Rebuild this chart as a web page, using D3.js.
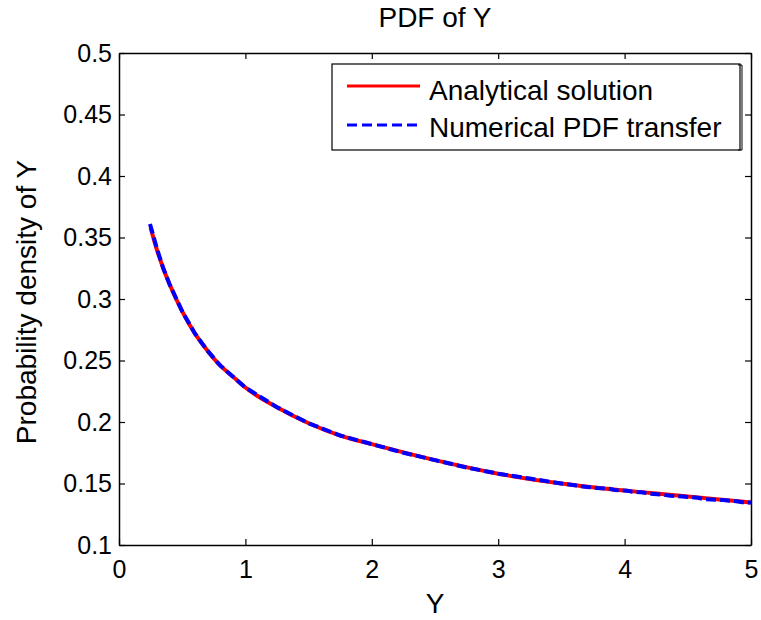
<!DOCTYPE html>
<html>
<head>
<meta charset="utf-8">
<script src="https://cdn.jsdelivr.net/npm/d3@7"></script>
<style>
  html, body { margin: 0; padding: 0; background: #fff; }
  svg { display: block; font-family: "Liberation Sans", Arial, sans-serif; }
</style>
</head>
<body>
<svg id="chart" width="761" height="620"></svg>
<script>
// PDF of Y: analytical curve and numerically transferred PDF
const analyticalY = [0.25, 0.3, 0.35, 0.4, 0.5, 0.6, 0.7, 0.8, 0.9, 1.0, 1.25, 1.5, 1.75, 2.0, 2.5, 3.0, 3.5, 3.8, 4.0, 4.25, 4.5, 4.75, 5.0];
const analyticalP = [0.358, 0.340, 0.325, 0.312, 0.290, 0.272, 0.258, 0.246, 0.237, 0.228, 0.212, 0.199, 0.189, 0.182, 0.169, 0.158, 0.150, 0.1463, 0.1443, 0.1418, 0.1395, 0.1370, 0.1345];

const numericalY = [0.245, 0.3, 0.35, 0.4, 0.5, 0.6, 0.7, 0.8, 0.9, 1.0, 1.25, 1.5, 1.75, 2.0, 2.25, 2.5, 2.75, 3.0, 3.25, 3.5,
  3.62, 3.72, 3.78, 3.88, 3.92, 4.02, 4.06, 4.15, 4.2, 4.3, 4.36, 4.46, 4.5, 4.58, 4.62, 4.74, 4.78, 4.9, 4.93, 5.0];
const numericalP = [0.361, 0.341, 0.325, 0.312, 0.290, 0.272, 0.258, 0.246, 0.237, 0.228, 0.212, 0.199, 0.189, 0.182, 0.175, 0.169, 0.163, 0.158, 0.154, 0.150,
  0.1483, 0.1470, 0.1464, 0.1458, 0.1448, 0.1442, 0.1433, 0.1427, 0.1416, 0.1410, 0.1400, 0.1394, 0.1390, 0.1384, 0.1374, 0.1368, 0.1365, 0.1354, 0.1348, 0.1345];

const xTicks = [0, 1, 2, 3, 4, 5];
const yTicks = [0.1, 0.15, 0.2, 0.25, 0.3, 0.35, 0.4, 0.45, 0.5];
const seriesNames = ["Analytical solution", "Numerical PDF transfer"];

const svg = d3.select("#chart");
const plotLeft = 119, plotRight = 751, plotTop = 53, plotBottom = 545;

const x = d3.scaleLinear().domain([0, 5]).range([plotLeft, plotRight]);
const y = d3.scaleLinear().domain([0.1, 0.5]).range([plotBottom, plotTop]);

const tickLen = 6;
const tickFont = 25;
const labelFont = 28;

// Axes (box with inward ticks)
const gBottom = svg.append("g").attr("transform", `translate(0,${plotBottom})`)
  .call(d3.axisBottom(x).tickValues(xTicks).tickSizeInner(-tickLen).tickSizeOuter(0).tickPadding(15).tickFormat(d3.format("d")));
const gTop = svg.append("g").attr("transform", `translate(0,${plotTop})`)
  .call(d3.axisTop(x).tickValues(xTicks).tickSizeInner(-tickLen).tickSizeOuter(0).tickFormat(""));
const gLeft = svg.append("g").attr("transform", `translate(${plotLeft},0)`)
  .call(d3.axisLeft(y).tickValues(yTicks).tickSizeInner(-tickLen).tickSizeOuter(0).tickPadding(7).tickFormat(d => String(+d.toFixed(2))));
const gRight = svg.append("g").attr("transform", `translate(${plotRight},0)`)
  .call(d3.axisRight(y).tickValues(yTicks).tickSizeInner(-tickLen).tickSizeOuter(0).tickFormat(""));

[gBottom, gTop, gLeft, gRight].forEach(g => {
  g.select(".domain").attr("stroke", "#000").attr("stroke-width", 1.5);
  g.selectAll(".tick line").attr("stroke", "#000").attr("stroke-width", 1.2);
  g.selectAll("text").attr("fill", "#000").attr("font-size", tickFont)
    .attr("font-family", "'Liberation Sans', Arial, sans-serif");
});

// Series lines
const line = d3.line().x(d => x(d[0])).y(d => y(d[1]));
const smooth = d3.line().x(d => x(d[0])).y(d => y(d[1])).curve(d3.curveMonotoneX);

const plot = svg.append("g");
plot.append("path")
  .datum(analyticalY.map((v, i) => [v, analyticalP[i]]))
  .attr("d", smooth)
  .attr("fill", "none").attr("stroke", "#ff0000").attr("stroke-width", 4);

plot.append("path")
  .datum(numericalY.map((v, i) => [v, numericalP[i]]))
  .attr("d", line)
  .attr("fill", "none").attr("stroke", "#0000ff").attr("stroke-width", 4)
  .attr("stroke-dasharray", "10,4");

// Legend
const lg = svg.append("g");
lg.append("rect").attr("x", 332).attr("y", 64).attr("width", 408).attr("height", 86)
  .attr("fill", "#fff").attr("stroke", "#000").attr("stroke-width", 1.2);
lg.append("path").attr("d", "M738,65 H742 V150 H738")
  .attr("fill", "none").attr("stroke", "#000").attr("stroke-width", 1);

const legendRows = [
  { name: seriesNames[0], color: "#ff0000", dash: null, ly: 86, ty: 100 },
  { name: seriesNames[1], color: "#0000ff", dash: "10,5", ly: 125, ty: 137 }
];
legendRows.forEach(r => {
  lg.append("line").attr("x1", 347).attr("x2", 420).attr("y1", r.ly).attr("y2", r.ly)
    .attr("stroke", r.color).attr("stroke-width", 3)
    .attr("stroke-dasharray", r.dash);
  lg.append("text").attr("x", 429).attr("y", r.ty)
    .attr("font-size", labelFont).attr("fill", "#000").text(r.name);
});

// Titles
svg.append("text").attr("x", 435).attr("y", 27).attr("text-anchor", "middle")
  .attr("font-size", labelFont).attr("fill", "#000").text("PDF of Y");
svg.append("text").attr("x", 435).attr("y", 613).attr("text-anchor", "middle")
  .attr("font-size", labelFont).attr("fill", "#000").text("Y");
svg.append("text").attr("transform", `translate(36,${(plotTop + plotBottom) / 2 + 3}) rotate(-90)`)
  .attr("text-anchor", "middle").attr("font-size", labelFont).attr("fill", "#000")
  .text("Probability density of Y");
</script>
</body>
</html>
